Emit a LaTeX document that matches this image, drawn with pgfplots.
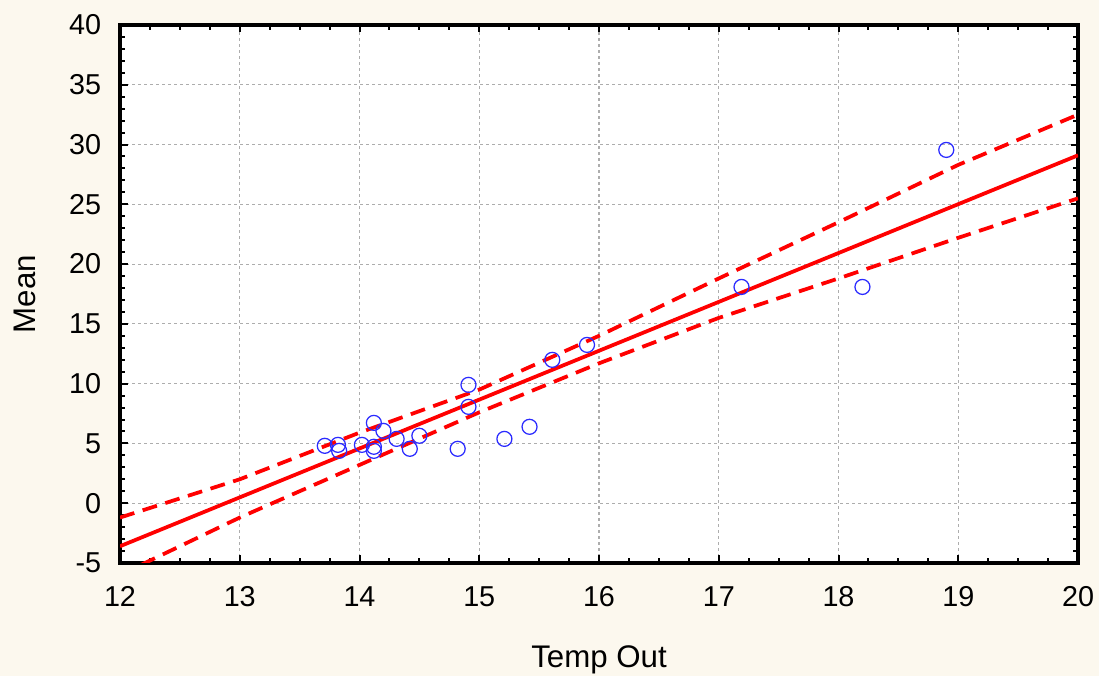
\documentclass[border=0pt]{standalone}
\usepackage{fontspec}
\setmainfont{Liberation Sans}
\usepackage{pgfplots}
\pgfplotsset{compat=1.18}
\usetikzlibrary{backgrounds}
\definecolor{cream}{HTML}{FCF8EE}
\definecolor{ptblue}{HTML}{2B2BFF}
\definecolor{fitred}{HTML}{FF0000}

\begin{document}
\begin{tikzpicture}
\begin{axis}[name=ax,
  width=383.2pt, height=215.2pt, scale only axis,
  xmin=12, xmax=20, ymin=-5, ymax=40,
  xtick={12,...,20}, ytick={-5,0,...,40},
  minor x tick num=3, minor y tick num=4,
  tick align=inside, xtick pos=both, ytick pos=both,
  xticklabel pos=left, yticklabel pos=left,
  major tick length=3pt, minor tick length=2pt,
  every tick/.style={black, line width=0.8pt},
  axis line style={line width=1.3pt},
  grid=major, major grid style={black!32, dash pattern=on 1.2pt off 1.2pt, line width=0.45pt},
  axis background/.style={fill=white},
  /pgf/number format/assume math mode=true,
  tick label style={font=\fontsize{11.5}{13}\selectfont},
  xticklabel style={yshift=-6pt}, yticklabel style={xshift=-4pt},
  xlabel={Temp Out}, ylabel={Mean},
  label style={font=\fontsize{12.5}{14}\selectfont},
  xlabel style={at={(axis description cs:0.5,-0.18)}, anchor=center},
  ylabel style={at={(axis description cs:-0.099,0.5)}, anchor=center},
]
% observed points
\addplot[only marks, mark=o, mark size=3pt, ptblue, mark options={line width=0.5pt}] coordinates {
(13.71,4.80) (13.82,4.88) (13.83,4.38) (14.12,6.72) (14.20,6.05) (14.02,4.88)
(14.12,4.72) (14.12,4.38) (14.31,5.38) (14.42,4.55) (14.50,5.64) (14.82,4.55)
(14.91,9.90) (14.91,8.06) (15.21,5.38) (15.42,6.39) (15.61,11.99) (15.90,13.24)
(17.19,18.09) (18.20,18.09) (18.90,29.55)};
% fitted line
\addplot[fitred, line width=1.5pt] coordinates {(12,-3.6) (20,29.1)};
% confidence bands
\addplot[fitred, line width=1.5pt, dash pattern=on 6pt off 3.5pt] coordinates {
(12,-1.2) (13,2.0) (14,5.9) (15,9.5) (16,14.0) (17,18.8) (18,23.5) (19,28.3) (20,32.5)};
\addplot[fitred, line width=1.5pt, dash pattern=on 6pt off 3.5pt] coordinates {
(12,-6.0) (13,-1.2) (14,3.2) (15,7.6) (16,11.7) (17,15.5) (18,18.8) (19,22.2) (20,25.5)};
\end{axis}
\pgfresetboundingbox
\begin{pgfonlayer}{background}
\fill[cream] ([shift={(-48pt,-45.2pt)}]ax.south west) rectangle ([shift={(8.4pt,10pt)}]ax.north east);
\end{pgfonlayer}
\path[use as bounding box] ([shift={(-48pt,-45.2pt)}]ax.south west) rectangle ([shift={(8.4pt,10pt)}]ax.north east);
\end{tikzpicture}
\end{document}
